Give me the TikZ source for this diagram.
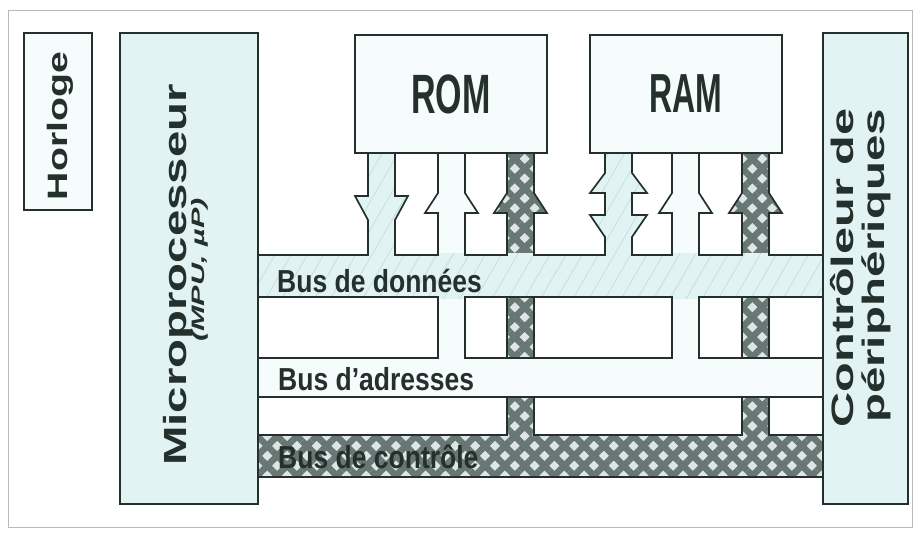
\documentclass[tikz,border=0pt]{standalone}
\usepackage{fontspec}
\setmainfont{Liberation Sans}
\usepackage{graphicx}
\usetikzlibrary{patterns.meta}
\definecolor{ink}{RGB}{36,48,44}
\definecolor{pale}{RGB}{226,243,244}
\definecolor{palest}{RGB}{246,251,251}
\definecolor{hatchc}{RGB}{200,221,223}
\definecolor{ctrlpale}{RGB}{222,230,229}
\definecolor{ctrldark}{RGB}{104,118,116}
\tikzset{
  box/.style={draw=ink,line width=1.5pt,inner sep=0pt},
  wire/.style={draw=ink,line width=1.7pt},
  databus/.style={preaction={fill=pale},pattern={Lines[angle=60,distance=14pt,line width=0.8pt]},pattern color=hatchc},
  adrbus/.style={fill=palest},
  ctrlbus/.style={preaction={fill=ctrlpale},pattern={Hatch[angle=45,distance=14pt,line width=6.5pt]},pattern color=ctrldark},
  lbl/.style={text=ink,inner sep=0pt},
  frame/.style={draw=gray!55,line width=0.8pt},
}
% one line from a memory to a bus: style, left x, end y
\newcommand{\upline}[3]{\path[#1] (#2,153) -- (#2,193) -- ({#2-13},213) -- (#2,213) -- (#2,#3)
  -- ({#2+27},#3) -- ({#2+27},213) -- ({#2+40},213) -- ({#2+27},193) -- ({#2+27},153) -- cycle;}
\newcommand{\downline}[3]{\path[#1] (#2,153) -- (#2,196) -- ({#2-13},196) -- (#2,220) -- (#2,#3)
  -- ({#2+27},#3) -- ({#2+27},220) -- ({#2+40},196) -- ({#2+27},196) -- ({#2+27},153) -- cycle;}
\newcommand{\bothline}[3]{\path[#1] (#2,153) -- (#2,173) -- ({#2-15},193) -- (#2,193) -- (#2,215)
  -- ({#2-15},215) -- (#2,237) -- (#2,#3) -- ({#2+27},#3) -- ({#2+27},237) -- ({#2+42},215)
  -- ({#2+27},215) -- ({#2+27},193) -- ({#2+42},193) -- ({#2+27},173) -- ({#2+27},153) -- cycle;}
% opens a bus edge where a line joins it
\newcommand{\seam}[3]{\path[#1] ({#2+1.3},{#3-1.9}) rectangle ({#2+25.7},{#3+1.9});}

\begin{document}
\begin{tikzpicture}[x=1pt,y=-1pt]
  \useasboundingbox (0,0) rectangle (915,535);
  \draw[frame] (8,10) rectangle (912,527);

  % control bus
  \upline{ctrlbus,wire}{507}{435}
  \upline{ctrlbus,wire}{742}{435}
  \path[ctrlbus,wire] (258,435) rectangle (823,477);
  \foreach \x in {507,742} \seam{ctrlbus}{\x}{435};

  % address bus
  \upline{adrbus,wire}{438}{358}
  \upline{adrbus,wire}{672}{358}
  \path[adrbus,wire] (258,358) rectangle (823,397);
  \foreach \x in {438,672} \seam{adrbus}{\x}{358};

  % data bus
  \downline{databus,wire}{368}{255}
  \bothline{databus,wire}{605}{255}
  \path[databus,wire] (258,255) rectangle (823,297);
  \foreach \x in {368,438,507,605,672,742} \seam{databus}{\x}{255};
  \foreach \x in {438,672} \seam{databus}{\x}{297};

  \node[box,fill=palest,minimum width=192pt,minimum height=118pt,
    font=\bfseries\fontsize{34}{34}\selectfont,text=ink] (rom) at (451,94) {\scalebox{1}[1.63]{ROM}};
  \node[box,fill=palest,minimum width=192pt,minimum height=118pt,
    font=\bfseries\fontsize{32}{32}\selectfont,text=ink] (ram) at (686,94) {\scalebox{1}[1.72]{RAM}};

  \node[box,fill=palest,minimum width=68pt,minimum height=177pt] (clock) at (58,121.5) {};
  \node[box,fill=pale,minimum width=138pt,minimum height=471pt] (mpu) at (189,268.5) {};
  \node[box,fill=pale,minimum width=85pt,minimum height=471pt] (ctrl) at (865.5,268.5) {};

  \node[lbl,rotate=90,anchor=base,font=\bfseries\fontsize{28}{28}\selectfont] (clocktxt) at (67,126)
    {\scalebox{1.4}[1]{Horloge}};
  \node[lbl,rotate=90,anchor=base,font=\bfseries\fontsize{32}{32}\selectfont] (mputxt) at (186,275)
    {\scalebox{1.48}[1]{Microprocesseur}};
  \node[lbl,rotate=90,anchor=base,font=\bfseries\itshape\fontsize{18}{18}\selectfont] (mpusub) at (204,270)
    {\scalebox{1.7}[1]{(MPU, µP)}};
  \node[lbl,rotate=90,anchor=base,font=\bfseries\fontsize{31}{31}\selectfont] (ctrltxt) at (853,268)
    {\scalebox{1.57}[1]{Contrôleur de}};
  \node[lbl,rotate=90,anchor=base,font=\bfseries\fontsize{31}{31}\selectfont] (ctrltxt2) at (884,266)
    {\scalebox{1.53}[1]{périphériques}};

  \node[lbl,anchor=base west,font=\bfseries\fontsize{26.5}{26.5}\selectfont] (datatxt) at (277,292)
    {\scalebox{1}[1.2]{Bus de données}};
  \node[lbl,anchor=base west,font=\bfseries\fontsize{26.5}{26.5}\selectfont] (adrtxt) at (278,390)
    {\scalebox{1}[1.2]{Bus d'adresses}};
  \node[lbl,anchor=base west,font=\bfseries\fontsize{26.5}{26.5}\selectfont] (ctrlbustxt) at (278,468)
    {\scalebox{1}[1.2]{Bus de contrôle}};
\end{tikzpicture}
\end{document}
